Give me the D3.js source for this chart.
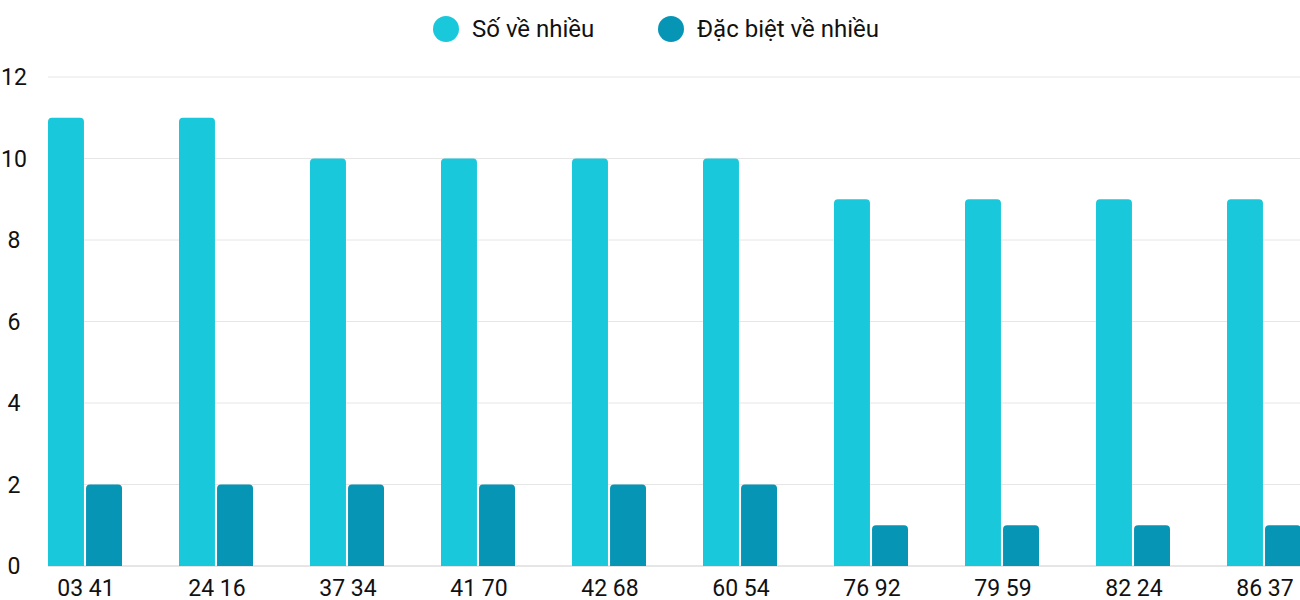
<!DOCTYPE html>
<html><head><meta charset="utf-8">
<script src="https://cdn.jsdelivr.net/npm/d3@7"></script>
<style>body{margin:0;background:#fff}svg{font-family:Roboto,sans-serif}</style>
</head><body><svg id="c" width="1300" height="600"></svg>
<script>
const categories=["03 41","24 16","37 34","41 70","42 68","60 54","76 92","79 59","82 24","86 37"];
const soVeNhieu=[11,11,10,10,10,10,9,9,9,9];
const dacBiet=[2,2,2,2,2,2,1,1,1,1];
const yTicks=[0,2,4,6,8,10,12];
const seriesNames=["Số về nhiều","Đặc biệt về nhiều"];
const colors=["#1ac8db","#0795b6"];

const svg=d3.select("#c");
const y=d3.scaleLinear().domain([0,12]).range([566,77]);
const x=d3.scaleBand().domain(categories).range([20.5,1330.5]);
const x1=d3.scaleBand().domain([0,1]).range([-38,36]).paddingInner(0.055);

svg.append("g").selectAll("line").data(yTicks).join("line")
 .attr("x1",48).attr("x2",1300).attr("y1",d=>y(d)).attr("y2",d=>y(d))
 .attr("stroke",d=>d===0?"#ccc":"#e6e6e6");
svg.append("g").selectAll("text").data(yTicks).join("text")
 .attr("x",14).attr("y",d=>y(d)+8).attr("text-anchor","middle")
 .attr("font-size",23).attr("fill","#111").text(d=>d);

function roundTop(x0,w,y0,h,r){
 return `M${x0},${y0+h}V${y0+r}Q${x0},${y0} ${x0+r},${y0}H${x0+w-r}Q${x0+w},${y0} ${x0+w},${y0+r}V${y0+h}Z`;
}
[soVeNhieu,dacBiet].forEach((vals,i)=>{
 svg.append("g").selectAll("path").data(categories).join("path")
  .attr("fill",colors[i])
  .attr("d",(c,j)=>{const cx=x(c)+x.bandwidth()/2;const x0=cx+x1(i);const top=y(vals[j]);return roundTop(x0,x1.bandwidth(),top,566-top,4);});
});
svg.append("g").selectAll("text").data(categories).join("text")
 .attr("x",c=>x(c)+x.bandwidth()/2).attr("y",596).attr("text-anchor","middle")
 .attr("font-size",23).attr("fill","#111").text(c=>c);

const lg=svg.append("g");
const lx=[446,671];
seriesNames.forEach((n,i)=>{
 lg.append("circle").attr("cx",lx[i]).attr("cy",29).attr("r",13).attr("fill",colors[i]);
 lg.append("text").attr("x",lx[i]+26).attr("y",37).attr("font-size",24).attr("fill","#111").text(n);
});
</script></body></html>
